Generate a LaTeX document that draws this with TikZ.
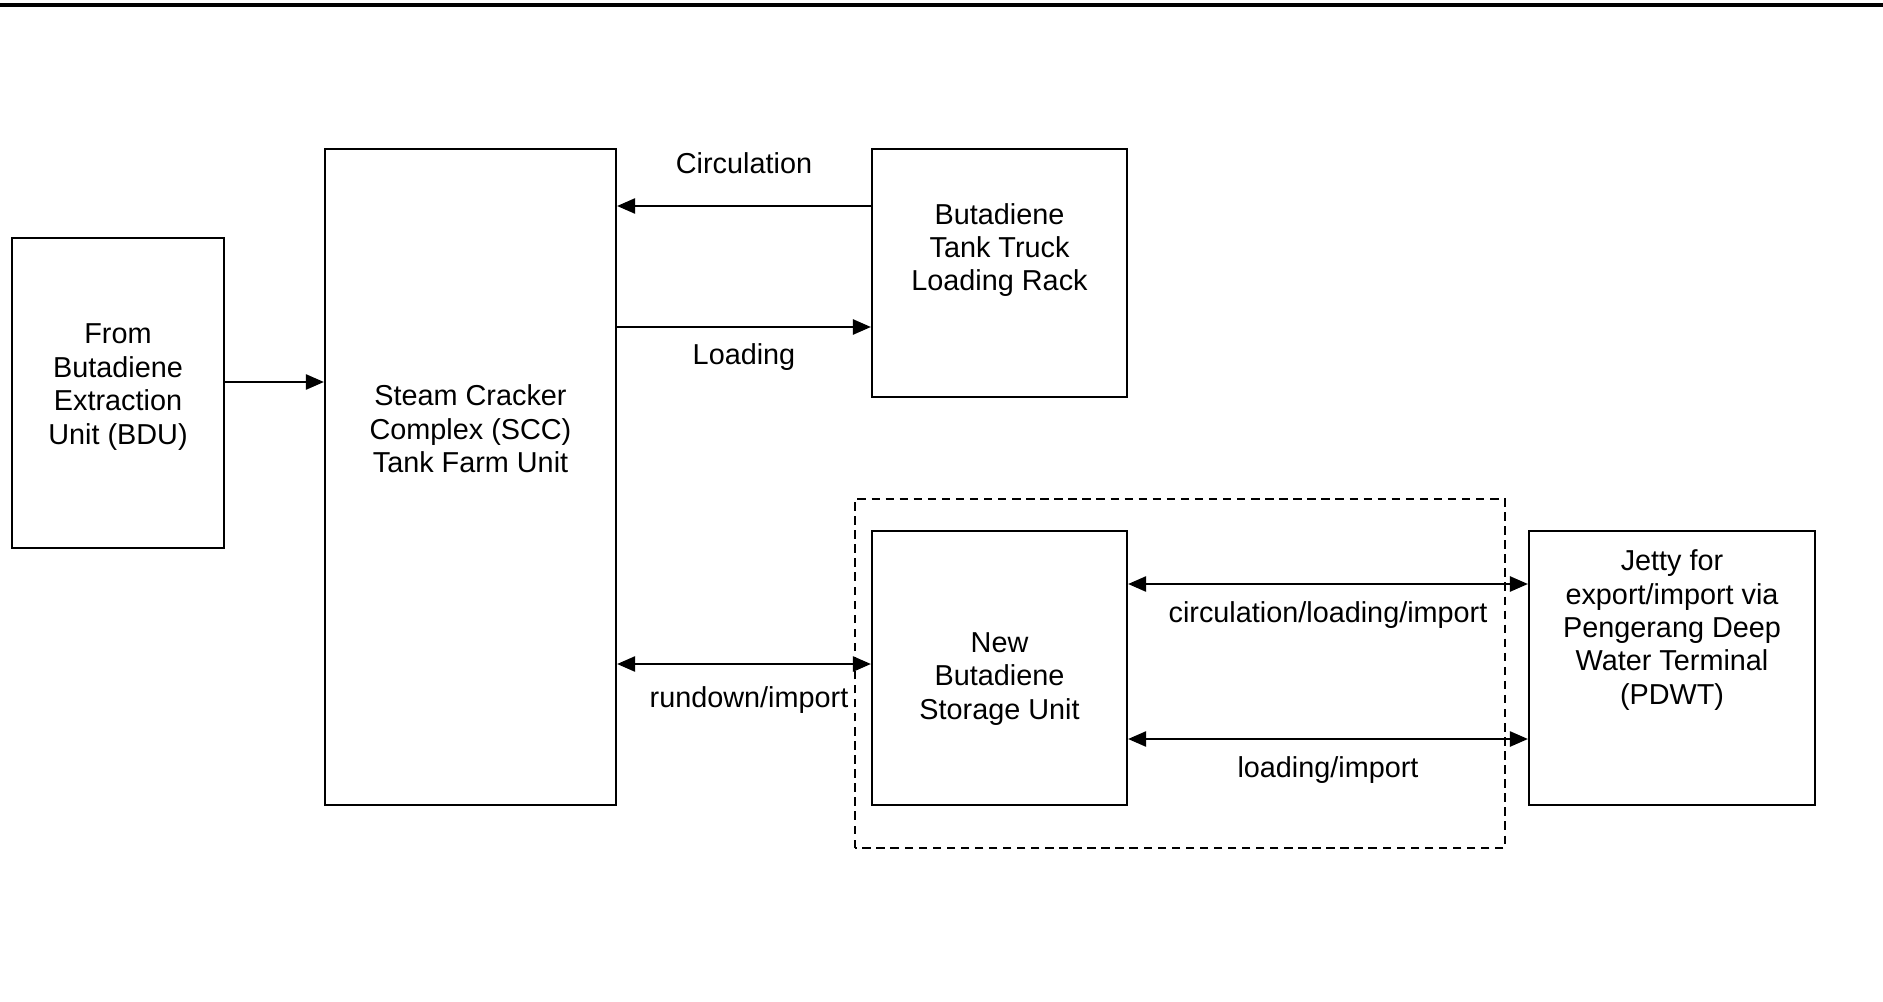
\documentclass[tikz,border=0pt]{standalone}
\usepackage{fontspec}
\setmainfont{Liberation Sans}
\usetikzlibrary{arrows.meta, positioning}

\begin{document}
\begin{tikzpicture}[font=\fontsize{8.2}{9.5}\selectfont,
    unit/.style={draw, line width=0.6pt, inner sep=0pt},
    txt/.style={align=center, inner sep=0pt},
    flow/.style={-{Triangle[length=1.8mm,width=1.5mm]}, line width=0.7pt},
    twoway/.style={{Triangle[length=1.8mm,width=1.5mm]}-{Triangle[length=1.8mm,width=1.5mm]}, line width=0.7pt},
    lbl/.style={inner sep=0pt}]

\useasboundingbox (0,0) rectangle (18.83,10.01);

% Rule across the top
\draw[line width=1pt] (0,9.96) -- (18.83,9.96);

% The units
\node[unit, minimum width=2.12cm, minimum height=3.10cm] (bdu) at (1.18,6.08) {};
\node[unit, minimum width=2.91cm, minimum height=6.56cm] (scc) at (4.705,5.24) {};
\node[unit, minimum width=2.55cm, minimum height=2.48cm] (truck) at (9.995,7.28) {};
\node[unit, minimum width=2.55cm, minimum height=2.74cm] (store) at (9.995,3.33) {};
\node[unit, minimum width=2.86cm, minimum height=2.74cm] (jetty) at (16.72,3.33) {};

% Their texts
\node[txt] (bdutxt) at ([yshift=0.06cm]bdu.center) {From\\Butadiene\\Extraction\\Unit (BDU)};
\node[txt] (scctxt) at ([yshift=0.48cm]scc.center) {Steam Cracker\\Complex (SCC)\\Tank Farm Unit};
\node[txt] (trucktxt) at ([yshift=0.23cm]truck.center) {Butadiene\\Tank Truck\\Loading Rack};
\node[txt] (storetxt) at ([yshift=-0.11cm]store.center) {New\\Butadiene\\Storage Unit};
\node[txt] (jettytxt) at ([yshift=0.38cm]jetty.center) {Jetty for\\export/import via\\Pengerang Deep\\Water Terminal\\(PDWT)};

% Boundary of the new scope
\draw[dash pattern=on 2.4pt off 1.6pt, line width=0.5pt] (8.55,1.53) rectangle (15.05,5.02);

% Flows
\draw[flow] (bdu.east |- 0,6.19) -- (scc.west |- 0,6.19);
\draw[flow] (truck.west |- 0,7.95) -- (scc.east |- 0,7.95)
    node[lbl, midway, yshift=4.3mm] (circ) {Circulation};
\draw[flow] (scc.east |- 0,6.74) -- (truck.west |- 0,6.74)
    node[lbl, midway, yshift=-3mm] (load) {Loading};
\draw[twoway] (scc.east |- 0,3.37) -- (store.west |- 0,3.37)
    node[lbl, midway, yshift=-3.6mm, xshift=0.05cm] (rund) {rundown/import};
\draw[twoway] (store.east |- 0,4.17) -- (jetty.west |- 0,4.17)
    node[lbl, midway, yshift=-3.1mm] (cli) {circulation/loading/import};
\draw[twoway] (store.east |- 0,2.62) -- (jetty.west |- 0,2.62)
    node[lbl, midway, yshift=-3.1mm] (li) {loading/import};

\end{tikzpicture}
\end{document}
